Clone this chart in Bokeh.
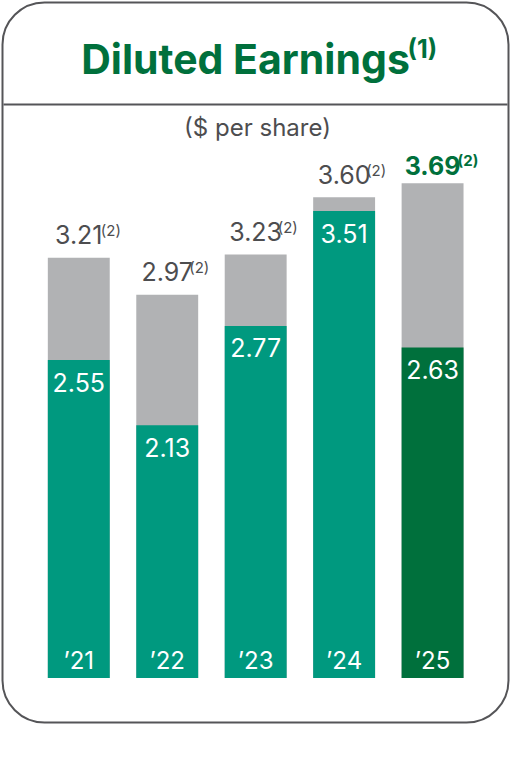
from bokeh.plotting import figure
from bokeh.models import Range1d, BoxAnnotation, Label
from bokeh.core.properties import value
from bokeh.embed import file_html
from bokeh.resources import INLINE

# Diluted earnings per share, fiscal years '21-'25
years = ["\u201921", "\u201922", "\u201923", "\u201924", "\u201925"]
reported = [2.55, 2.13, 2.77, 3.51, 2.63]
adjusted = [3.21, 2.97, 3.23, 3.60, 3.69]
reported_labels = ["2.55", "2.13", "2.77", "3.51", "2.63"]
adjusted_labels = ["3.21", "2.97", "3.23", "3.60", "3.69"]
axis_floor = 0.5

W, H = 510, 761
FONT = "Inter"
TEAL = "#00997F"
DARK_GREEN = "#00703C"
GRAY_BAR = "#B1B2B4"
TEXT_GRAY = "#4D4D4F"
FRAME = "#555558"

idx = list(range(len(years)))
bar_colors = [TEAL] * (len(years) - 1) + [DARK_GREEN]

p = figure(width=W, height=H, output_backend="svg", toolbar_location=None,
           x_range=Range1d(-0.885, 4.881), y_range=Range1d(-0.0387, 4.868),
           min_border=0, min_border_left=0, min_border_right=0,
           min_border_top=0, min_border_bottom=0)
p.axis.visible = False
p.grid.visible = False
p.outline_line_color = None
p.background_fill_color = "white"
p.border_fill_color = "white"

# adjusted (grey) behind reported (coloured)
p.vbar(x=idx, bottom=axis_floor, top=adjusted, width=0.70,
       fill_color=GRAY_BAR, line_color=None)
p.vbar(x=idx, bottom=axis_floor, top=reported, width=0.70,
       fill_color=bar_colors, line_color=None)

# reported values inside the bars
p.text(x=idx, y=reported, text=reported_labels, text_align="center",
       text_baseline="middle", y_offset=22, text_color="white",
       text_font=value(FONT), text_font_size="25px")

# adjusted values above the bars
p.text(x=idx[:-1], y=adjusted[:-1], text=adjusted_labels[:-1], text_align="center",
       text_baseline="middle", y_offset=-23, text_color=TEXT_GRAY,
       text_font=value(FONT), text_font_size="25px")
p.text(x=idx[-1:], y=adjusted[-1:], text=adjusted_labels[-1:], text_align="center",
       text_baseline="middle", y_offset=-18, text_color=DARK_GREEN,
       text_font=value(FONT), text_font_size="25px", text_font_style="bold")
p.text(x=idx[:-1], y=adjusted[:-1], text=["(2)"] * (len(idx) - 1), text_align="left",
       text_baseline="middle", x_offset=22, y_offset=-27, text_color=TEXT_GRAY,
       text_font=value(FONT), text_font_size="15px")
p.text(x=idx[-1:], y=adjusted[-1:], text=["(2)"], text_align="left",
       text_baseline="middle", x_offset=25, y_offset=-23, text_color=DARK_GREEN,
       text_font=value(FONT), text_font_size="15px", text_font_style="bold")

# year labels at the foot of each bar
p.text(x=idx, y=[axis_floor] * len(idx), text=years, text_align="center",
       text_baseline="middle", y_offset=-17, text_color="white",
       text_font=value(FONT), text_font_size="24px")

# rounded card frame and header divider
p.add_layout(BoxAnnotation(left=2, right=508, bottom=H - 722, top=H - 2,
                           left_units="screen", right_units="screen",
                           top_units="screen", bottom_units="screen",
                           fill_alpha=0, line_color=FRAME, line_alpha=1,
                           line_width=2, border_radius=42, level="underlay"))
p.add_layout(BoxAnnotation(left=3, right=507, bottom=H - 105, top=H - 103,
                           left_units="screen", right_units="screen",
                           top_units="screen", bottom_units="screen",
                           fill_color=FRAME, fill_alpha=1, line_alpha=0))

p.add_layout(Label(x=245, y=H - 58, x_units="screen", y_units="screen",
                   text="Diluted Earnings", text_align="center",
                   text_baseline="middle", text_font=FONT,
                   text_font_size="41px", text_font_style="bold",
                   text_color=DARK_GREEN))
p.add_layout(Label(x=407, y=H - 48, x_units="screen", y_units="screen",
                   text="(1)", text_align="left", text_baseline="middle",
                   text_font=FONT, text_font_size="25px", text_font_style="bold",
                   text_color=DARK_GREEN))
p.add_layout(Label(x=257, y=H - 127, x_units="screen", y_units="screen",
                   text="($ per share)", text_align="center",
                   text_baseline="middle", text_font=FONT,
                   text_font_size="24px", text_color=TEXT_GRAY))

open("out.html", "w").write(file_html(p, INLINE))
